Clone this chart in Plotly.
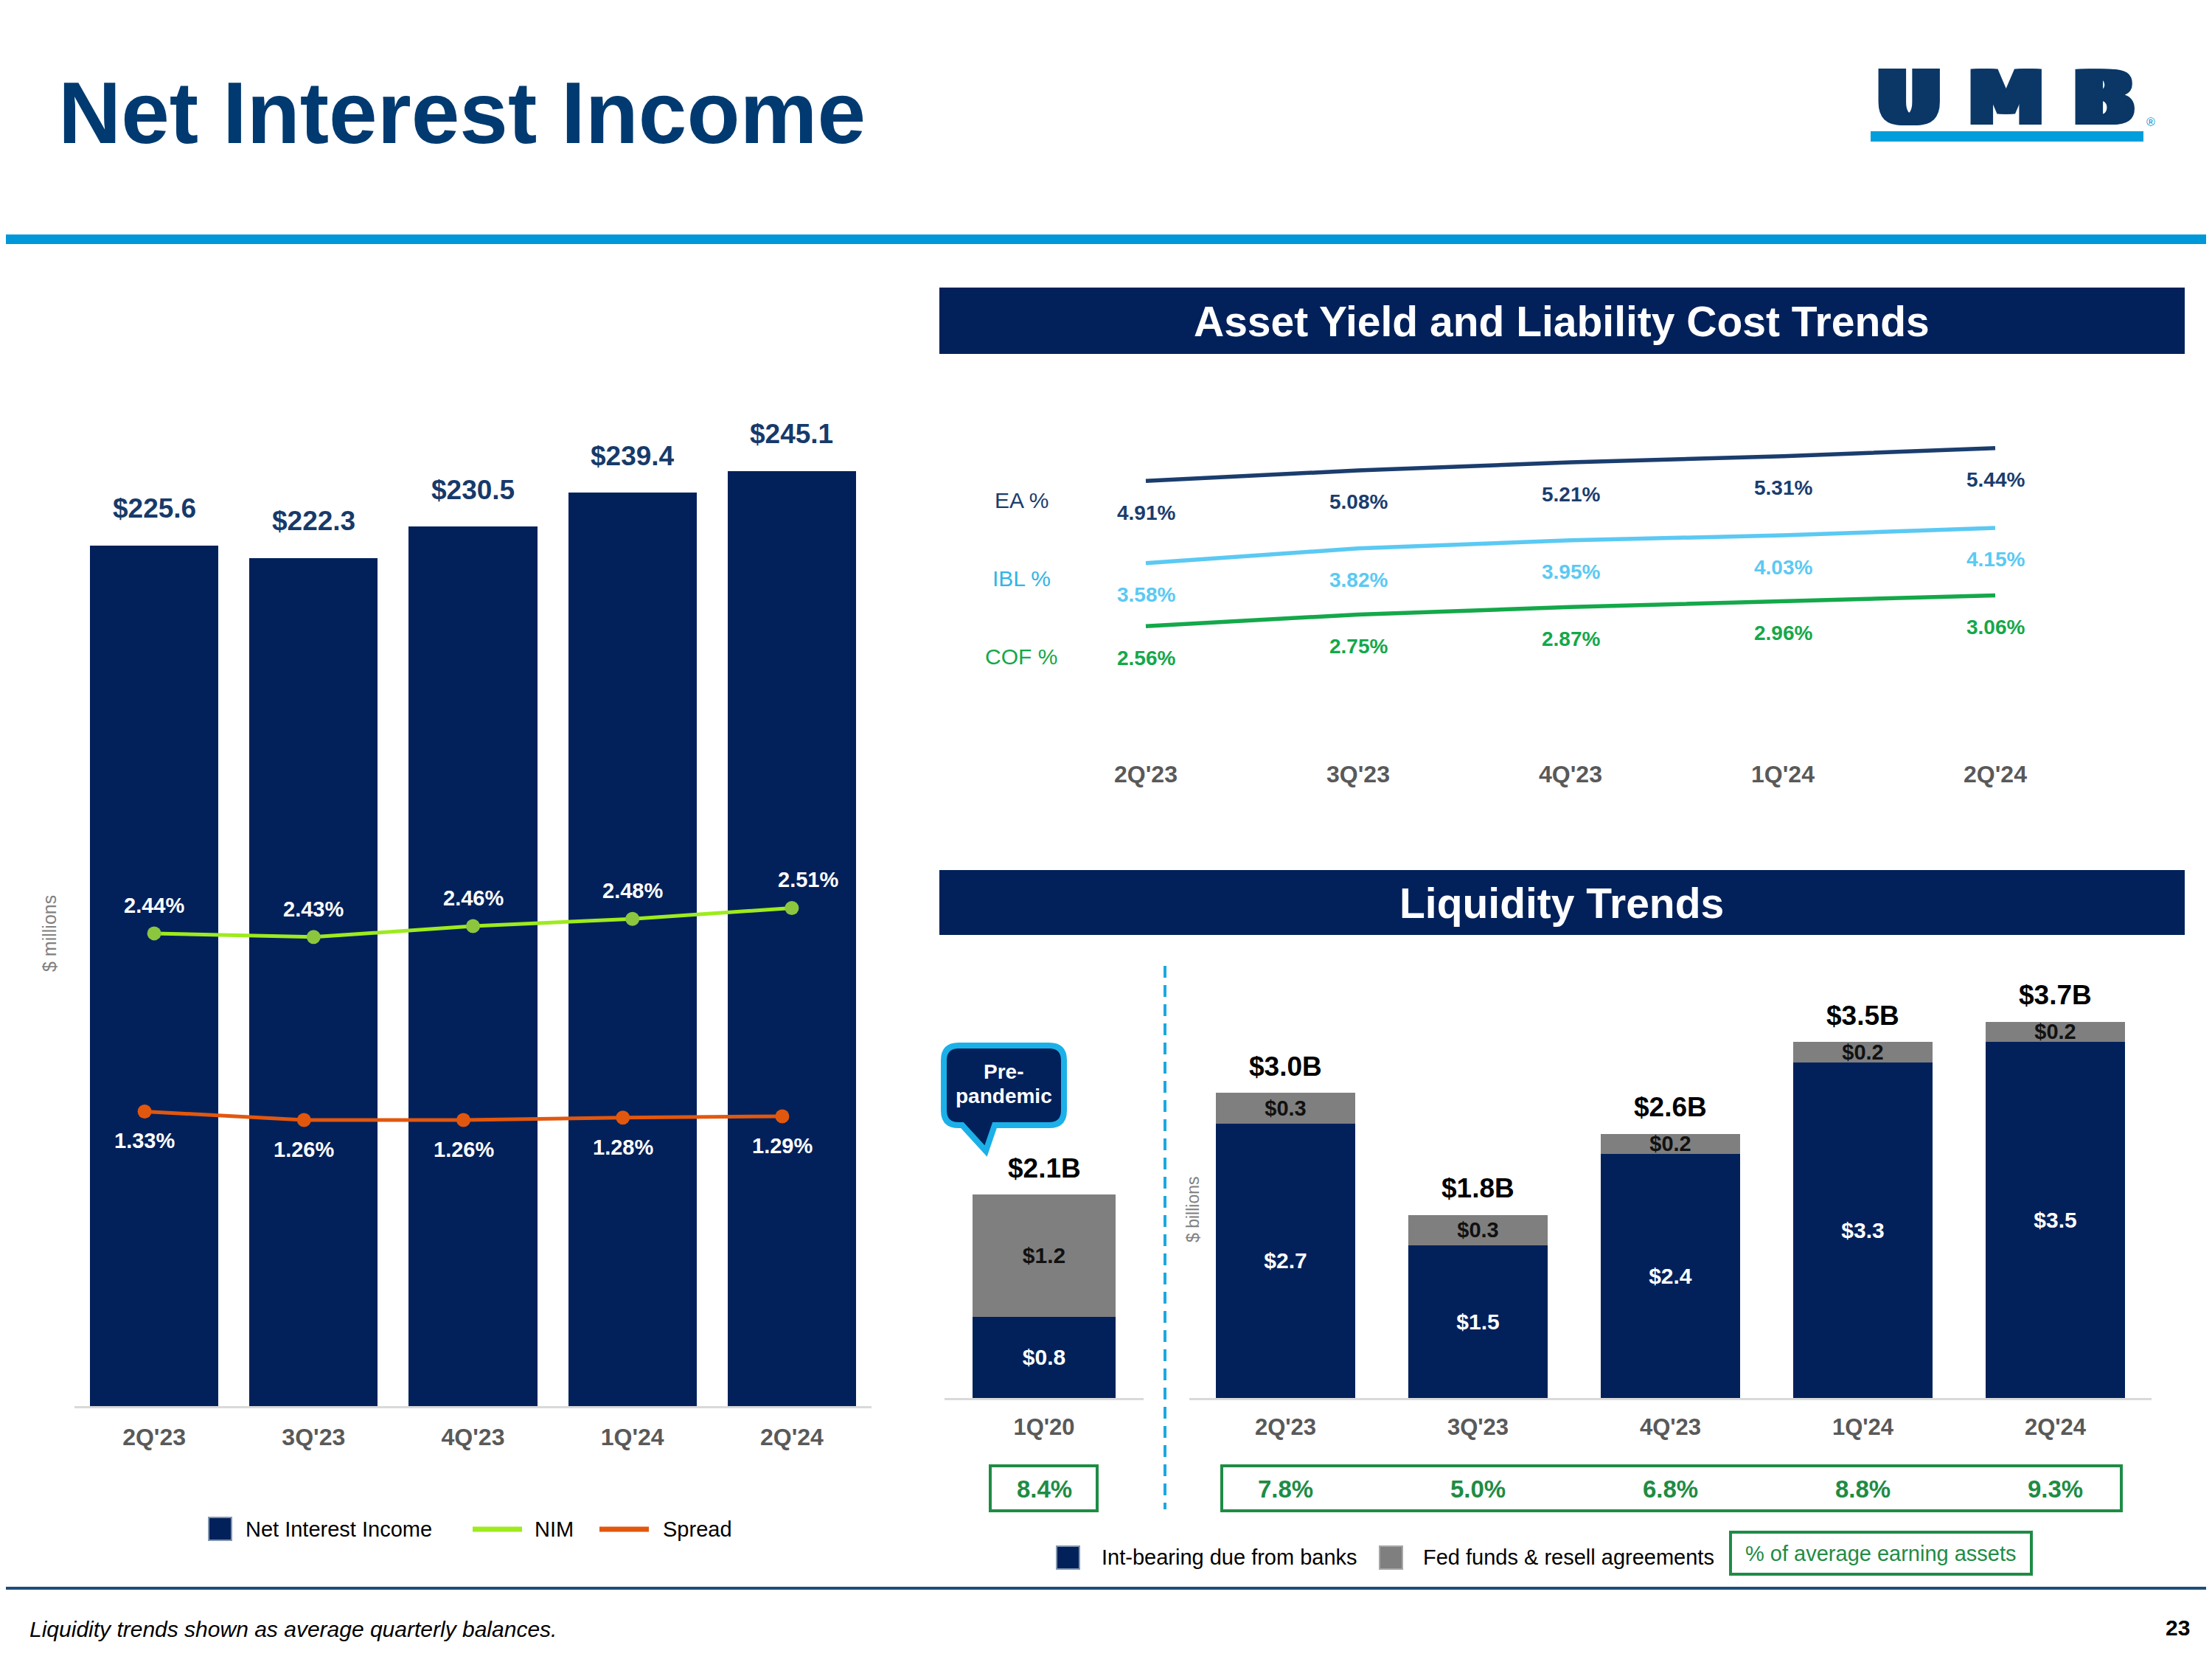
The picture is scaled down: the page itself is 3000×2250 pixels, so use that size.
import plotly.graph_objects as go

# ---------------- data ----------------
nii_quarters = ["2Q'23", "3Q'23", "4Q'23", "1Q'24", "2Q'24"]
nii_values = [225.6, 222.3, 230.5, 239.4, 245.1]
nim_values = [2.44, 2.43, 2.46, 2.48, 2.51]
spread_values = [1.33, 1.26, 1.26, 1.28, 1.29]

yield_quarters = ["2Q'23", "3Q'23", "4Q'23", "1Q'24", "2Q'24"]
ea_values = [4.91, 5.08, 5.21, 5.31, 5.44]
ibl_values = [3.58, 3.82, 3.95, 4.03, 4.15]
cof_values = [2.56, 2.75, 2.87, 2.96, 3.06]

pre_quarter = ["1Q'20"]
pre_int_bearing = [0.8]
pre_fed_funds = [1.2]
pre_total_labels = ["$2.1B"]
pre_pct = ["8.4%"]

liq_quarters = ["2Q'23", "3Q'23", "4Q'23", "1Q'24", "2Q'24"]
liq_int_bearing = [2.7, 1.5, 2.4, 3.3, 3.5]
liq_fed_funds = [0.3, 0.3, 0.2, 0.2, 0.2]
liq_total_labels = ["$3.0B", "$1.8B", "$2.6B", "$3.5B", "$3.7B"]
liq_pct = ["7.8%", "5.0%", "6.8%", "8.8%", "9.3%"]

# ---------------- helpers / styles ----------------
W, H = 3000, 2250
OFF = 8  # page body margin of the browser


def X(px):
    return (px - OFF) / W


def Y(py):
    return 1 - (py - OFF) / H


FONT = "Liberation Sans, Arial, Helvetica, sans-serif"
NAVY = "#02215B"
TITLE_BLUE = "#003A70"
LABEL_BLUE = "#173A6A"
GRAY_BAR = "#7F7F7F"
TICK_GRAY = "#595959"
AXIS_GRAY = "#D9D9D9"
NIM_LINE = "#9DEB1E"
NIM_MARK = "#8CC63F"
SPREAD = "#E2570E"
EA_C = "#1B3D6E"
IBL_C = "#5BC9F3"
COF_C = "#14A84A"
GREEN_BOX = "#1E8C45"
LIGHT_BLUE = "#0098D8"
CALLOUT_BLUE = "#1CB0E8"
LOGO_BLUE = "#0B3767"

fig = go.Figure()

# ---------------- left chart: Net Interest Income ----------------
fig.add_trace(go.Bar(x=nii_quarters, y=nii_values, xaxis="x", yaxis="y",
                     marker=dict(color=NAVY, line=dict(width=0)), width=0.805,
                     name="Net Interest Income", showlegend=False, hoverinfo="skip"))
fig.add_trace(go.Scatter(x=nii_quarters, y=nim_values, xaxis="x", yaxis="y2",
                         mode="lines+markers", line=dict(color=NIM_LINE, width=5),
                         marker=dict(color=NIM_MARK, size=19), name="NIM",
                         showlegend=False, hoverinfo="skip"))
fig.add_trace(go.Scatter(x=nii_quarters, y=spread_values, xaxis="x5", yaxis="y3",
                         mode="lines+markers", line=dict(color=SPREAD, width=5),
                         marker=dict(color=SPREAD, size=19), name="Spread",
                         showlegend=False, hoverinfo="skip"))

# ---------------- top right: yields ----------------
for vals, col, nm in [(ea_values, EA_C, "EA %"), (ibl_values, IBL_C, "IBL %"), (cof_values, COF_C, "COF %")]:
    fig.add_trace(go.Scatter(x=yield_quarters, y=vals, xaxis="x2", yaxis="y4",
                             mode="lines", line=dict(color=col, width=5.5),
                             name=nm, showlegend=False, hoverinfo="skip"))

# ---------------- bottom right: liquidity ----------------
fig.add_trace(go.Bar(x=pre_quarter, y=pre_int_bearing, xaxis="x3", yaxis="y5",
                     marker=dict(color=NAVY, line=dict(width=0)), width=0.722,
                     text=[f"<b>${v:.1f}</b>" for v in pre_int_bearing], textposition="inside",
                     insidetextanchor="middle", constraintext="none",
                     textfont=dict(family=FONT, size=30, color="white"),
                     showlegend=False, hoverinfo="skip"))
fig.add_trace(go.Bar(x=pre_quarter, y=pre_fed_funds, xaxis="x3", yaxis="y5",
                     marker=dict(color=GRAY_BAR, line=dict(width=0)), width=0.722,
                     text=[f"<b>${v:.1f}</b>" for v in pre_fed_funds], textposition="inside",
                     insidetextanchor="middle", constraintext="none",
                     textfont=dict(family=FONT, size=30, color="#111111"),
                     showlegend=False, hoverinfo="skip"))
fig.add_trace(go.Bar(x=liq_quarters, y=liq_int_bearing, xaxis="x4", yaxis="y6",
                     marker=dict(color=NAVY, line=dict(width=0)), width=0.725,
                     text=[f"<b>${v:.1f}</b>" for v in liq_int_bearing], textposition="inside",
                     insidetextanchor="middle", constraintext="none",
                     textfont=dict(family=FONT, size=30, color="white"),
                     showlegend=False, hoverinfo="skip"))
fig.add_trace(go.Bar(x=liq_quarters, y=liq_fed_funds, xaxis="x4", yaxis="y6",
                     marker=dict(color=GRAY_BAR, line=dict(width=0)), width=0.725,
                     text=[f"<b>${v:.1f}</b>" for v in liq_fed_funds], textposition="inside",
                     insidetextanchor="middle", constraintext="none",
                     textfont=dict(family=FONT, size=29, color="#111111"),
                     showlegend=False, hoverinfo="skip"))

tickfont = dict(family=FONT, size=32, color=TICK_GRAY, weight="bold")
liq_top = 1896 - 4.3 * 138

fig.update_layout(
    width=W, height=H, autosize=False,
    margin=dict(l=0, r=0, t=0, b=0),
    paper_bgcolor="white", plot_bgcolor="rgba(0,0,0,0)",
    barmode="stack", bargap=0,
    font=dict(family=FONT),
    xaxis=dict(domain=[X(101), X(1182)], range=[-0.5, 4.5], anchor="y",
               showline=True, linecolor=AXIS_GRAY, linewidth=3, ticks="",
               showgrid=False, zeroline=False, tickfont=tickfont, ticklabelstandoff=12),
    xaxis5=dict(overlaying="x", range=[-0.44, 4.56], visible=False, anchor="y"),
    yaxis=dict(domain=[Y(1907), Y(458)], range=[0, 280], visible=False, anchor="x"),
    yaxis2=dict(overlaying="y", range=[1.137, 4.082], visible=False, anchor="x"),
    yaxis3=dict(overlaying="y", range=[-1.099, 7.71], visible=False, anchor="x"),
    xaxis2=dict(domain=[X(1410), X(2850)], range=[-0.5, 4.5], anchor="y4",
                showline=False, ticks="", showgrid=False, zeroline=False, tickfont=tickfont),
    yaxis4=dict(domain=[Y(1028), Y(560)], range=[0.43, 6.01], visible=False, anchor="x2"),
    xaxis3=dict(domain=[X(1281), X(1551)], range=[-0.5, 0.5], anchor="y5",
                showline=True, linecolor=AXIS_GRAY, linewidth=3, ticks="",
                showgrid=False, zeroline=False, tickfont=dict(family=FONT, size=31, color=TICK_GRAY, weight="bold"),
                ticklabelstandoff=10),
    yaxis5=dict(domain=[Y(1896), Y(liq_top)], range=[0, 4.3], visible=False, anchor="x3"),
    xaxis4=dict(domain=[X(1613), X(2918)], range=[-0.5, 4.5], anchor="y6",
                showline=True, linecolor=AXIS_GRAY, linewidth=3, ticks="",
                showgrid=False, zeroline=False, tickfont=dict(family=FONT, size=31, color=TICK_GRAY, weight="bold"),
                ticklabelstandoff=10),
    yaxis6=dict(domain=[Y(1896), Y(liq_top)], range=[0, 4.3], visible=False, anchor="x4"),
)

ann = []


def A(x, y, text, size, color, xanchor="center", yanchor="middle", **kw):
    font = dict(family=kw.pop("family", FONT), size=size, color=color)
    if "shadow" in kw:
        font["shadow"] = kw.pop("shadow")
    d = dict(x=x, y=y, text=text, showarrow=False, xanchor=xanchor, yanchor=yanchor, font=font)
    d.setdefault("xref", "paper")
    d.setdefault("yref", "paper")
    d.update(kw)
    ann.append(d)


# title & logo
A(X(77), Y(153), "<b>Net Interest Income</b>", 118, TITLE_BLUE, xanchor="left")
for letter, cx, spread_px in [("U", 2589, 9), ("M", 2721, 6), ("B", 2853, 9)]:
    sh = ", ".join(f"{dx}px 0px 0px {LOGO_BLUE}" for dx in range(-spread_px, spread_px + 1, 3) if dx != 0)
    A(X(cx), Y(133), f"<b>{letter}</b>", 104, LOGO_BLUE,
      family="DejaVu Sans, Liberation Sans, sans-serif", shadow=sh)
A(X(2917), Y(166), "®", 16, LIGHT_BLUE)

# left chart labels
for q, v in zip(nii_quarters, nii_values):
    A(q, v, f"<b>${v:.1f}</b>", 37, LABEL_BLUE, xref="x", yref="y", yshift=50)
for i, (q, v) in enumerate(zip(nii_quarters, nim_values)):
    A(q, v, f"<b>{v:.2f}%</b>", 29, "white", xref="x", yref="y2", yshift=38,
      xshift=22 if i == len(nim_values) - 1 else 0)
for q, v in zip(nii_quarters, spread_values):
    A(q, v, f"<b>{v:.2f}%</b>", 29, "white", xref="x5", yref="y3", yshift=-40)
A(X(67), Y(1266), "$ millions", 25, "#808080", textangle=-90)

# left legend
A(X(331), Y(2074), "Net Interest Income", 29, "black", xanchor="left")
A(X(723), Y(2074), "NIM", 29, "black", xanchor="left")
A(X(897), Y(2074), "Spread", 29, "black", xanchor="left")

# top-right header + labels
A(X(2118), Y(436), "<b>Asset Yield and Liability Cost Trends</b>", 57, "white")
A(X(2118), Y(1225), "<b>Liquidity Trends</b>", 57, "white")
A(X(1385), Y(679), "EA %", 30, EA_C)
A(X(1385), Y(785), "IBL %", 30, "#33B5E5")
A(X(1385), Y(891), "COF %", 30, COF_C)
for vals, col in [(ea_values, EA_C), (ibl_values, IBL_C), (cof_values, COF_C)]:
    for q, v in zip(yield_quarters, vals):
        A(q, v, f"<b>{v:.2f}%</b>", 28, col, xref="x2", yref="y4", yshift=-43)

# liquidity labels
for q, a, b, t in zip(pre_quarter, pre_int_bearing, pre_fed_funds, pre_total_labels):
    A(q, a + b, f"<b>{t}</b>", 37, "black", xref="x3", yref="y5", yshift=36)
for q, a, b, t in zip(liq_quarters, liq_int_bearing, liq_fed_funds, liq_total_labels):
    A(q, a + b, f"<b>{t}</b>", 37, "black", xref="x4", yref="y6", yshift=36)
for q, p in zip(pre_quarter, pre_pct):
    A(q, Y(2019), f"<b>{p}</b>", 33, GREEN_BOX, xref="x3")
for q, p in zip(liq_quarters, liq_pct):
    A(q, Y(2019), f"<b>{p}</b>", 33, GREEN_BOX, xref="x4")
A(X(1618), Y(1640), "$ billions", 23, "#808080", textangle=-90)
A(X(1361), Y(1453), "<b>Pre-</b>", 28, "white")
A(X(1361), Y(1486), "<b>pandemic</b>", 28, "white")

# bottom-right legend
A(X(1492), Y(2112), "Int-bearing due from banks", 29, "black", xanchor="left")
A(X(1928), Y(2112), "Fed funds & resell agreements", 29, "black", xanchor="left")
A(X(2551), Y(2107), "% of average earning assets", 29, GREEN_BOX)

# footer
A(X(38), Y(2209), "<i>Liquidity trends shown as average quarterly balances.</i>", 30, "black", xanchor="left")
A(X(2972), Y(2207), "<b>23</b>", 30, "black", xanchor="right")

fig.update_layout(annotations=ann)

# ---------------- shapes ----------------
shapes = []


def rect(x0, y0, x1, y1, fill=None, line_color=None, lw=0, layer="above"):
    shapes.append(dict(type="rect", xref="paper", yref="paper",
                       x0=X(x0), x1=X(x1), y0=Y(y1), y1=Y(y0),
                       fillcolor=fill if fill else "rgba(0,0,0,0)",
                       line=dict(color=line_color if line_color else "rgba(0,0,0,0)", width=lw),
                       layer=layer))


def line(x0, y0, x1, y1, color, lw, dash=None):
    d = dict(type="line", xref="paper", yref="paper", x0=X(x0), x1=X(x1), y0=Y(y0), y1=Y(y1),
             line=dict(color=color, width=lw))
    if dash:
        d["line"]["dash"] = dash
    shapes.append(d)


rect(0, 318, W + OFF, 331, fill=LIGHT_BLUE, layer="below")
rect(2537, 178, 2907, 192, fill="#009EDB")
rect(1274, 390, 2963, 480, fill=NAVY, layer="below")
rect(1274, 1180, 2963, 1268, fill=NAVY, layer="below")

# callout bubble
L, R, T, B, r = 1280, 1443, 1418, 1526, 20


def P(x, y):
    return f"{X(x):.6f},{Y(y):.6f}"


path = (f"M {P(L + r, T)} L {P(R - r, T)} Q {P(R, T)} {P(R, T + r)} L {P(R, B - r)} "
        f"Q {P(R, B)} {P(R - r, B)} L {P(1349, B)} L {P(1337, 1561)} L {P(1305, B)} "
        f"L {P(L + r, B)} Q {P(L, B)} {P(L, B - r)} L {P(L, T + r)} Q {P(L, T)} {P(L + r, T)} Z")
shapes.append(dict(type="path", xref="paper", yref="paper", path=path,
                   fillcolor=NAVY, line=dict(color=CALLOUT_BLUE, width=8), layer="below"))

# dashed separator
line(1580, 1310, 1580, 2047, "#1CA9E1", 4, dash="16px,10px")

# percentage boxes
rect(1343, 1988, 1488, 2049, line_color=GREEN_BOX, lw=4)
rect(1657, 1988, 2877, 2049, line_color=GREEN_BOX, lw=4)

# left legend swatches
rect(283, 2058, 314, 2089, fill=NAVY, line_color="#8497B0", lw=2)
line(641, 2074, 708, 2074, NIM_LINE, 7)
line(813, 2074, 880, 2074, SPREAD, 7)

# bottom-right legend swatches
rect(1433, 2097, 1464, 2128, fill=NAVY, line_color="#8497B0", lw=2)
rect(1871, 2097, 1902, 2128, fill=GRAY_BAR, line_color="#A6A6A6", lw=2)
rect(2347, 2078, 2755, 2135, line_color=GREEN_BOX, lw=4)

# footer line
line(0, 2154, W + OFF, 2154, "#1F4E79", 4)

fig.update_layout(shapes=shapes)

fig.write_html("out.html")
